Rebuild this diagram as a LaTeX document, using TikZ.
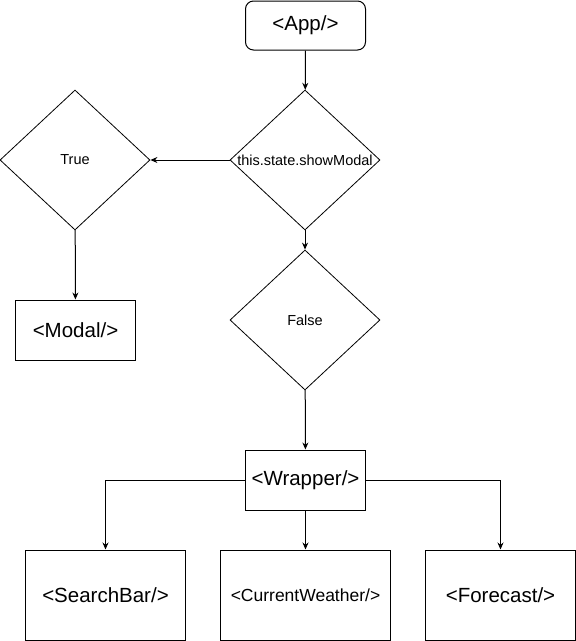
\documentclass[tikz,border=0pt]{standalone}
\usepackage{fontspec}
\setmainfont{Liberation Sans}
\usetikzlibrary{shapes.geometric,arrows.meta}
\begin{document}
\begin{tikzpicture}[x=1pt,y=1pt]
				\tikzstyle{every node}+=[inner sep=0pt]
				\tikzstyle{comp}=[draw=black,line width=1pt,rectangle,minimum height=60pt,font=\fontsize{20.5}{24}\selectfont]
				\tikzstyle{cond}=[draw=black,line width=0.8pt,diamond,aspect=1.07,minimum width=150pt,minimum height=140pt,font=\fontsize{14.5}{17}\selectfont]
				\tikzstyle{link}=[draw=black,line width=1pt,-{Stealth[length=7pt,width=6pt]}]
				\useasboundingbox (0,0) rectangle (576,-641);
				\node [comp,rounded corners=8pt,minimum width=120pt,minimum height=49pt] (app) at (305.5,-25.5) {<App/>};
				\node [cond] (show) at (305,-160) {this.state.showModal};
				\node [cond] (true) at (75,-160) {True};
				\node [comp,minimum width=120pt] (modal) at (75.5,-330) {<Modal/>};
				\node [cond] (false) at (305,-320) {False};
				\node [comp,minimum width=120pt] (wrapper) at (305.5,-480) {<Wrapper/>};
				\node [comp,minimum width=160pt,minimum height=90pt] (search) at (105.5,-595) {<SearchBar/>};
				\node [comp,minimum width=170pt,minimum height=90pt,font=\fontsize{17.5}{21}\selectfont] (weather) at (305.5,-595) {<CurrentWeather/>};
				\node [comp,minimum width=150pt,minimum height=90pt] (forecast) at (500.5,-595) {<Forecast/>};
				\draw [link] (app) -- (show);
				\draw [link] (show) -- (true);
				\draw [link] (true) -- (modal);
				\draw [link] (show) -- (false);
				\draw [link] (false) -- (wrapper);
				\draw [link] (wrapper.west) -| (search.north);
				\draw [link] (wrapper) -- (weather);
				\draw [link] (wrapper.east) -| (forecast.north);
\end{tikzpicture}
\end{document}
